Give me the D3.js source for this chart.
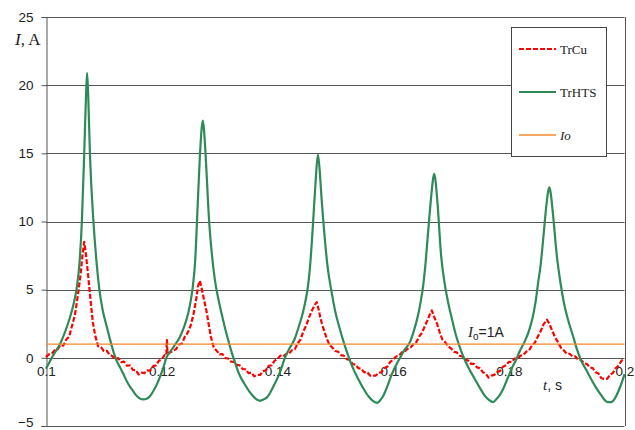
<!DOCTYPE html>
<html>
<head>
<meta charset="utf-8">
<script src="https://cdn.jsdelivr.net/npm/d3@7"></script>
<style>
  html, body { margin: 0; padding: 0; background: #fff; }
  svg { display: block; }
</style>
</head>
<body>
<svg id="chart" width="635" height="430"></svg>
<script>
// Current in the copper (TrCu) and HTS (TrHTS) transformer windings, t in s, I in A
const yTicks = [-5, 0, 5, 10, 15, 20, 25];
const xTicks = [0.1, 0.12, 0.14, 0.16, 0.18, 0.2];
const xTickLabels = ["0.1", "0.12", "0.14", "0.16", "0.18", "0.2"];
const ioLevel = 1;

const trHTS = [
  [0.1000,-0.8],[0.1005,-0.4],[0.1010,0.0],[0.1017,0.5],[0.1024,1.0],[0.1032,1.8],[0.1041,2.9],
  [0.1048,4.0],[0.1053,5.1],[0.1058,7.0],[0.1062,10.0],[0.1066,14.9],[0.1069,19.0],[0.1071,20.9],
  [0.1073,19.2],[0.1076,14.9],[0.1082,10.0],[0.1087,7.2],[0.1092,5.1],[0.1098,3.5],[0.1105,2.3],
  [0.1111,1.3],[0.1117,0.4],[0.1122,-0.2],[0.1128,-0.7],[0.1135,-1.3],[0.1142,-1.9],[0.1150,-2.4],
  [0.1157,-2.8],[0.1163,-3.0],[0.1168,-3.05],[0.1174,-3.0],[0.1180,-2.8],[0.1186,-2.4],[0.1191,-2.0],
  [0.1197,-1.4],[0.1203,-0.7],[0.1208,0.0],[0.1214,0.4],[0.1222,0.9],[0.1231,1.5],[0.1239,2.3],
  [0.1246,3.3],[0.1251,4.4],[0.1254,5.3],[0.1258,7.2],[0.1261,10.0],[0.1266,14.8],[0.1269,16.8],
  [0.1271,17.4],[0.1273,16.8],[0.1276,14.8],[0.1282,10.0],[0.1287,7.5],[0.1292,5.7],[0.1299,4.1],
  [0.1306,2.8],[0.1313,1.6],[0.1321,0.4],[0.1328,-0.5],[0.1335,-1.3],[0.1343,-1.9],[0.1352,-2.5],
  [0.1360,-2.9],[0.1366,-3.1],[0.1370,-3.15],[0.1376,-3.05],[0.1382,-2.9],[0.1387,-2.6],[0.1393,-2.1],
  [0.1399,-1.6],[0.1405,-1.0],[0.1413,0.0],[0.1421,0.7],[0.1430,1.4],[0.1437,2.3],[0.1444,3.3],
  [0.1450,4.5],[0.1453,5.3],[0.1457,7.0],[0.1461,9.45],[0.1466,12.9],[0.1470,14.9],[0.1473,13.8],
  [0.1476,11.9],[0.1482,8.7],[0.1487,6.6],[0.1493,5.0],[0.1500,3.4],[0.1508,2.1],[0.1515,1.1],
  [0.1522,0.2],[0.1530,-0.7],[0.1539,-1.5],[0.1548,-2.2],[0.1557,-2.8],[0.1565,-3.15],[0.1573,-3.3],
  [0.1578,-3.1],[0.1584,-2.7],[0.1590,-2.1],[0.1596,-1.4],[0.1602,-0.8],[0.1608,-0.3],[0.1612,0.0],
  [0.1620,0.6],[0.1629,1.15],[0.1636,2.0],[0.1643,3.1],[0.1648,4.2],[0.1652,5.3],[0.1656,6.9],
  [0.1660,8.96],[0.1666,11.9],[0.1669,13.1],[0.1671,13.5],[0.1673,13.1],[0.1677,11.2],[0.1683,7.5],
  [0.1689,5.5],[0.1695,4.1],[0.1702,2.8],[0.1709,1.6],[0.1716,0.7],[0.1723,-0.07],[0.1732,-0.85],
  [0.1741,-1.54],[0.1750,-2.2],[0.1758,-2.76],[0.1766,-3.1],[0.1773,-3.25],[0.1778,-3.05],[0.1784,-2.75],
  [0.1790,-2.3],[0.1796,-1.7],[0.1802,-1.1],[0.1807,-0.6],[0.1812,-0.2],[0.1819,0.5],[0.1827,1.15],
  [0.1835,2.0],[0.1842,3.1],[0.1847,4.3],[0.1850,5.3],[0.1855,6.8],[0.1859,8.5],[0.1865,11.2],
  [0.1868,12.2],[0.1870,12.5],[0.1872,12.2],[0.1876,10.7],[0.1883,7.5],[0.1889,5.6],[0.1895,4.1],
  [0.1903,2.7],[0.1911,1.6],[0.1918,0.6],[0.1925,-0.2],[0.1934,-0.9],[0.1942,-1.54],[0.1951,-2.2],
  [0.1960,-2.76],[0.1966,-3.1],[0.1971,-3.25],[0.1977,-3.25],[0.1983,-3.0],[0.1990,-2.4],[0.1997,-1.6],
  [0.2000,-1.2]
];

const trCu = [
  [0.1000,0.05],[0.1005,0.25],[0.1010,0.3],[0.1015,0.55],[0.1020,0.62],[0.1025,0.95],[0.1030,0.9],
  [0.1035,1.35],[0.1040,1.55],[0.1045,2.35],[0.1050,3.15],[0.1055,4.55],[0.1060,6.2],[0.1063,7.5],
  [0.1066,8.5],[0.1069,7.6],[0.1072,6.4],[0.1075,5.1],[0.1078,3.8],[0.1081,2.6],[0.1085,1.65],
  [0.1090,0.85],[0.1095,0.78],[0.1100,0.5],[0.1105,0.52],[0.1110,0.22],[0.1115,0.12],[0.1120,-0.12],
  [0.1125,-0.02],[0.1130,-0.32],[0.1135,-0.28],[0.1140,-0.58],[0.1145,-0.55],[0.1150,-0.88],[0.1155,-0.9],
  [0.1160,-1.22],[0.1165,-1.08],[0.1170,-1.12],[0.1175,-0.92],[0.1180,-0.95],[0.1185,-0.62],[0.1190,-0.55],
  [0.1195,-0.22],[0.1200,-0.12],[0.1205,0.2],[0.1208,0.18],[0.1209,1.3],[0.1210,0.32],[0.1215,0.4],
  [0.1220,0.52],[0.1225,0.65],[0.1230,0.98],[0.1235,1.05],[0.1240,1.55],[0.1245,1.85],[0.1250,2.35],
  [0.1255,3.2],[0.1260,4.4],[0.1263,5.3],[0.1266,5.65],[0.1269,5.1],[0.1272,4.5],[0.1275,3.9],
  [0.1278,3.3],[0.1281,2.5],[0.1285,1.55],[0.1290,0.75],[0.1295,0.52],[0.1300,0.25],[0.1305,0.28],
  [0.1310,-0.02],[0.1315,-0.05],[0.1320,-0.28],[0.1325,-0.3],[0.1330,-0.52],[0.1335,-0.55],[0.1340,-0.82],
  [0.1345,-0.85],[0.1350,-1.12],[0.1355,-1.08],[0.1360,-1.36],[0.1365,-1.25],[0.1370,-1.26],[0.1375,-0.98],
  [0.1380,-0.92],[0.1385,-0.58],[0.1390,-0.56],[0.1395,-0.22],[0.1400,-0.1],[0.1405,0.16],[0.1410,0.1],
  [0.1415,0.28],[0.1420,0.3],[0.1425,0.56],[0.1430,0.62],[0.1435,1.05],[0.1440,1.35],[0.1445,1.95],
  [0.1450,2.4],[0.1455,3.0],[0.1460,3.5],[0.1465,3.9],[0.1468,4.08],[0.1471,3.6],[0.1474,3.0],
  [0.1477,2.5],[0.1480,2.1],[0.1485,1.45],[0.1490,0.95],[0.1495,0.75],[0.1500,0.5],[0.1505,0.45],
  [0.1510,0.2],[0.1515,0.15],[0.1520,-0.1],[0.1525,-0.15],[0.1530,-0.45],[0.1535,-0.5],[0.1540,-0.76],
  [0.1545,-0.8],[0.1550,-1.06],[0.1555,-1.04],[0.1560,-1.3],[0.1565,-1.3],[0.1570,-1.3],[0.1575,-1.1],
  [0.1580,-1.05],[0.1585,-0.75],[0.1590,-0.65],[0.1595,-0.3],[0.1600,-0.15],[0.1605,0.1],[0.1610,0.15],
  [0.1615,0.4],[0.1620,0.45],[0.1625,0.66],[0.1630,0.75],[0.1635,1.0],[0.1640,1.15],[0.1645,1.55],
  [0.1650,1.85],[0.1655,2.35],[0.1660,2.8],[0.1664,3.25],[0.1667,3.47],[0.1670,3.1],[0.1673,2.8],
  [0.1676,2.5],[0.1680,1.95],[0.1685,1.35],[0.1690,1.15],[0.1695,0.85],[0.1700,0.7],[0.1705,0.45],
  [0.1710,0.4],[0.1715,0.15],[0.1720,0.1],[0.1725,-0.15],[0.1730,-0.2],[0.1735,-0.45],[0.1740,-0.45],
  [0.1745,-0.7],[0.1750,-0.75],[0.1755,-1.05],[0.1760,-1.15],[0.1765,-1.45],[0.1770,-1.3],[0.1775,-1.25],
  [0.1780,-1.05],[0.1785,-0.95],[0.1790,-0.65],[0.1795,-0.55],[0.1800,-0.3],[0.1805,-0.3],[0.1810,-0.05],
  [0.1815,-0.1],[0.1820,0.15],[0.1825,0.2],[0.1830,0.45],[0.1835,0.55],[0.1840,0.9],[0.1845,1.1],
  [0.1850,1.55],[0.1855,1.95],[0.1860,2.45],[0.1866,2.8],[0.1870,2.5],[0.1875,2.0],[0.1880,1.5],
  [0.1885,1.15],[0.1890,0.75],[0.1895,0.55],[0.1900,0.3],[0.1905,0.3],[0.1910,0.1],[0.1915,0.1],
  [0.1920,-0.15],[0.1925,-0.15],[0.1930,-0.4],[0.1935,-0.45],[0.1940,-0.7],[0.1945,-0.75],[0.1950,-1.05],
  [0.1955,-1.15],[0.1960,-1.5],[0.1965,-1.55],[0.1970,-1.55],[0.1975,-1.25],[0.1980,-1.1],[0.1985,-0.75],
  [0.1990,-0.55],[0.1995,-0.2],[0.2000,-0.1]
];

const legendItems = [
  { label: "TrCu", color: "#ff0000", dash: "5,2", width: 2, italic: false },
  { label: "TrHTS", color: "#2e8b57", dash: null, width: 2, italic: false },
  { label: "Io", color: "#f68a2e", dash: null, width: 1.3, italic: true }
];

const svg = d3.select("#chart");
const W = 635, H = 430;
const margin = { left: 46, right: 10.5, top: 17, bottom: 4 };

const x = d3.scaleLinear().domain([0.1, 0.2]).range([margin.left, W - margin.right]);
const y = d3.scaleLinear().domain([-5, 25]).range([H - margin.bottom, margin.top]);

const gridColor = "#555";
const textColor = "#222";
const sans = "'Liberation Sans', Arial, sans-serif";
const serif = "'Liberation Serif', 'Times New Roman', serif";

// horizontal grid lines
svg.append("g")
  .selectAll("line")
  .data(yTicks)
  .join("line")
  .attr("x1", x(0.1)).attr("x2", x(0.2))
  .attr("y1", d => Math.round(y(d)) + 0.5).attr("y2", d => Math.round(y(d)) + 0.5)
  .attr("stroke", gridColor).attr("stroke-width", 1);

// right border
svg.append("line")
  .attr("x1", Math.round(x(0.2)) + 0.5).attr("x2", Math.round(x(0.2)) + 0.5)
  .attr("y1", y(25)).attr("y2", y(-5))
  .attr("stroke", gridColor).attr("stroke-width", 1);

// y axis with outer tick marks
const yAxis = d3.axisLeft(y).tickValues(yTicks).tickSize(5).tickPadding(8).tickFormat(d3.format("d"));
const gy = svg.append("g").attr("transform", `translate(${Math.round(x(0.1)) + 0.5},0)`).call(yAxis);
gy.select(".domain").attr("stroke", gridColor);
gy.selectAll(".tick line").attr("stroke", gridColor);
gy.selectAll(".tick text")
  .attr("font-family", sans).attr("font-size", 13.5).attr("fill", textColor)
  .attr("dy", d => d === -5 ? "0.05em" : "0.32em");

// x labels sit just under the zero line
const xAxis = d3.axisBottom(x).tickValues(xTicks).tickSize(0).tickPadding(8)
  .tickFormat((d, i) => xTickLabels[i]);
const gx = svg.append("g").attr("transform", `translate(0,${Math.round(y(0)) + 0.5})`).call(xAxis);
gx.select(".domain").remove();
gx.selectAll(".tick text")
  .attr("font-family", sans).attr("font-size", 13.5).attr("fill", textColor);

// series
const line = d3.line().x(d => x(d[0])).y(d => y(d[1]));
const smooth = d3.line().x(d => x(d[0])).y(d => y(d[1])).curve(d3.curveMonotoneX);

svg.append("path")
  .datum(trCu)
  .attr("d", line)
  .attr("fill", "none")
  .attr("stroke", legendItems[0].color)
  .attr("stroke-width", 2.2)
  .attr("stroke-dasharray", legendItems[0].dash)
  .attr("stroke-linejoin", "round");

svg.append("path")
  .datum(trHTS)
  .attr("d", smooth)
  .attr("fill", "none")
  .attr("stroke", legendItems[1].color)
  .attr("stroke-width", 2.2)
  .attr("stroke-linejoin", "round");

svg.append("line")
  .attr("x1", x(0.1)).attr("x2", x(0.2))
  .attr("y1", y(ioLevel)).attr("y2", y(ioLevel))
  .attr("stroke", legendItems[2].color).attr("stroke-width", legendItems[2].width);

// axis titles
const yTitle = svg.append("text")
  .attr("x", 15).attr("y", 45)
  .attr("font-family", serif).attr("font-size", 17).attr("fill", textColor);
yTitle.append("tspan").attr("font-style", "italic").text("I");
yTitle.append("tspan").text(", A");

const xTitle = svg.append("text")
  .attr("x", 543).attr("y", 390)
  .attr("font-size", 14).attr("fill", textColor);
xTitle.append("tspan").attr("font-family", serif).attr("font-style", "italic").attr("font-size", 15).text("t");
xTitle.append("tspan").attr("font-family", sans).text(", s");

// I₀ = 1 A annotation
const ioText = svg.append("text")
  .attr("x", 468).attr("y", 337)
  .attr("font-size", 14).attr("fill", textColor);
ioText.append("tspan").attr("font-family", serif).attr("font-style", "italic").attr("font-size", 15).text("I");
ioText.append("tspan").attr("font-family", sans).attr("font-size", 10).attr("dy", 3).text("o");
ioText.append("tspan").attr("font-family", sans).attr("dy", -3).text("=1A");

// legend
const lg = svg.append("g").attr("transform", "translate(511,27)");
lg.append("rect")
  .attr("x", 0.5).attr("y", 0.5).attr("width", 95).attr("height", 129)
  .attr("fill", "#fff").attr("stroke", "#444").attr("stroke-width", 1);
const rowY = [22, 65, 108];
legendItems.forEach((it, i) => {
  lg.append("line")
    .attr("x1", 8).attr("x2", 45)
    .attr("y1", rowY[i]).attr("y2", rowY[i])
    .attr("stroke", it.color).attr("stroke-width", it.width)
    .attr("stroke-dasharray", it.dash);
  lg.append("text")
    .attr("x", 49).attr("y", rowY[i] + 4.5)
    .attr("font-family", serif).attr("font-size", 13)
    .attr("font-style", it.italic ? "italic" : "normal")
    .attr("fill", textColor)
    .text(it.label);
});
</script>
</body>
</html>
